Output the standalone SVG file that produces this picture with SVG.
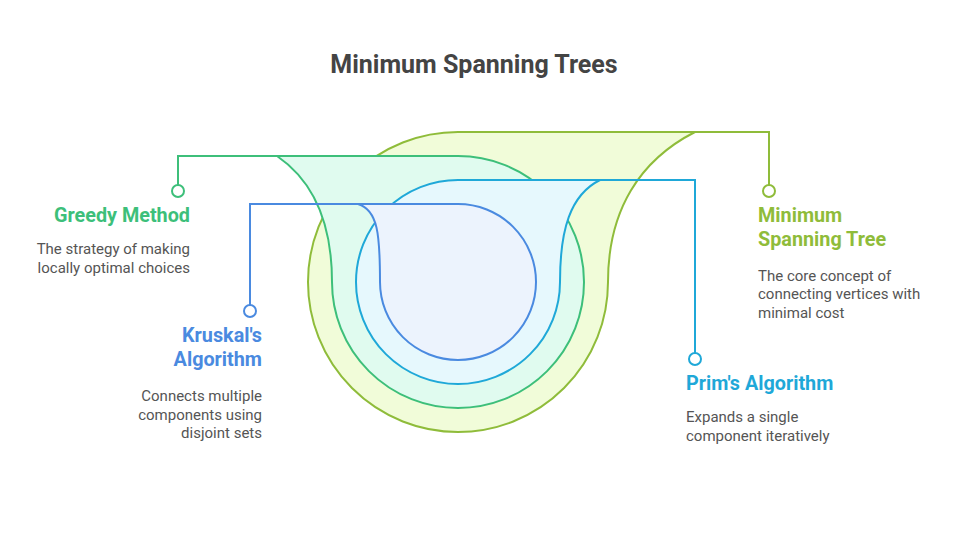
<svg xmlns="http://www.w3.org/2000/svg" width="960" height="552" viewBox="0 0 960 552">
<style>
text{font-family:Roboto,"Liberation Sans",sans-serif}
.t{font-size:19.8px;font-weight:bold}
.d{font-size:15px;fill:#555}
.s{stroke-width:2;fill:none}
.c{fill:#fff;stroke-width:2}
.r{text-anchor:end}
</style>
<rect width="960" height="552" fill="#fff"/>
<text x="474" y="73" text-anchor="middle" style="font-size:25px;font-weight:bold;fill:#444">Minimum Spanning Trees</text>
<g id="mst-shape"><path d="M458,132 L695,132 C640,160 608,210 608,282 A150 150 0 1 1 458,132 Z" fill="#f1fcd9" stroke="#8fbc3a" stroke-width="2"/></g>
<g id="greedy-shape"><path d="M277,156 L458,156 A126 126 0 1 1 332,282 C332,220 312,180 277,156 Z" fill="#e0fbef" stroke="#3dbf7a" stroke-width="2"/></g>
<g id="prim-shape"><path d="M458,180 L600,180 C570,195 560,230 560,282 A102 102 0 1 1 458,180 Z" fill="#e6f8fd" stroke="#1fa8d8" stroke-width="2"/></g>
<g id="kruskal-shape"><path d="M358,204 L458,204 A78 78 0 1 1 380,282 C380,235 378,210 358,204 Z" fill="#ecf3fd" stroke="#4a8ae0" stroke-width="2"/></g>
<g id="connectors">
<path class="s" stroke="#8fbc3a" d="M695,132 H769 V185"/>
<circle class="c" stroke="#8fbc3a" cx="769" cy="191" r="6"/>
<path class="s" stroke="#3dbf7a" d="M277,156 H178 V185"/>
<circle class="c" stroke="#3dbf7a" cx="178" cy="191" r="6"/>
<path class="s" stroke="#1fa8d8" d="M600,180 H695 V353"/>
<circle class="c" stroke="#1fa8d8" cx="695" cy="359" r="6"/>
<path class="s" stroke="#4a8ae0" d="M358,204 H250 V305"/>
<circle class="c" stroke="#4a8ae0" cx="250" cy="311" r="6"/>
</g>
<g id="greedy">
<text class="t r" x="190" y="222" fill="#3dbf7a">Greedy Method</text>
<text class="d r" x="190" y="254">The strategy of making</text>
<text class="d r" x="190" y="273">locally optimal choices</text>
</g>
<g id="kruskal">
<text class="t r" x="262" y="342" fill="#4a8ae0">Kruskal's</text>
<text class="t r" x="262" y="366" fill="#4a8ae0">Algorithm</text>
<text class="d r" x="262" y="401">Connects multiple</text>
<text class="d r" x="262" y="420">components using</text>
<text class="d r" x="262" y="438">disjoint sets</text>
</g>
<g id="mst">
<text class="t" x="758" y="222" fill="#8fbc3a">Minimum</text>
<text class="t" x="758" y="246" fill="#8fbc3a">Spanning Tree</text>
<text class="d" x="758" y="281">The core concept of</text>
<text class="d" x="758" y="299">connecting vertices with</text>
<text class="d" x="758" y="318">minimal cost</text>
</g>
<g id="prim">
<text class="t" x="686" y="390" fill="#1fa8d8">Prim's Algorithm</text>
<text class="d" x="686" y="422">Expands a single</text>
<text class="d" x="686" y="441">component iteratively</text>
</g>
</svg>
